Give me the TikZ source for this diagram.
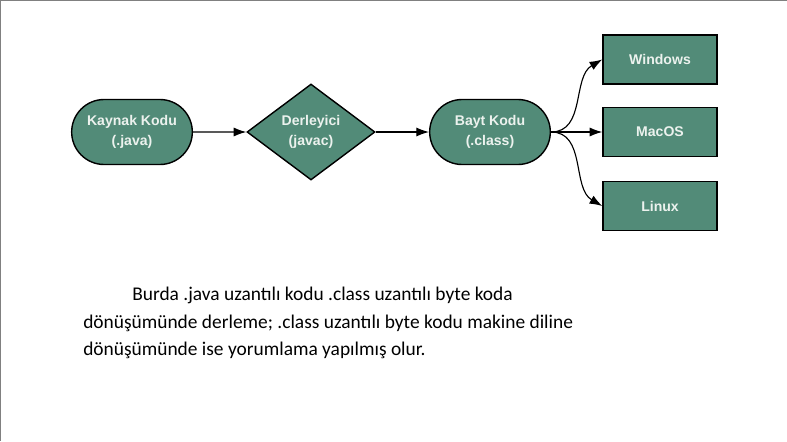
\documentclass[tikz,border=0pt]{standalone}
\usepackage{fontspec}
\setmainfont{Liberation Sans}
\newfontfamily\notefont{Carlito}
\usetikzlibrary{shapes,arrows.meta,positioning}
\definecolor{flowgreen}{RGB}{82,139,120}
\definecolor{flowtext}{RGB}{236,242,238}
\tikzset{
    flownode/.style={draw=black, line width=1pt, fill=flowgreen, text=flowtext, font=\bfseries\fontsize{10}{14.5}\selectfont, align=center},
    stadium/.style={flownode, rounded rectangle, minimum width=3.25cm, minimum height=1.625cm},
    decision/.style={flownode, diamond, minimum width=3.2cm, minimum height=2.4cm, inner sep=0pt},
    osbox/.style={flownode, rectangle, minimum width=2.85cm, minimum height=1.225cm},
    flowarrow/.style={-{Latex[length=9pt,width=6.5pt]}, line width=0.8pt}
}
\begin{document}
\begin{tikzpicture}[x=0.025cm, y=-0.025cm]
    \useasboundingbox (0,0) rectangle (787,441);
    \draw [gray, line width=1.5pt] (0,441) -- (0,0) -- (787,0);

    % Flow
    \node [stadium] (source) at (132,132) {Kaynak Kodu\\(.java)};
    \node [decision] (javac) at (311,132) {Derleyici\\(javac)};
    \node [stadium] (bytecode) at (490,132) {Bayt Kodu\\(.class)};

    % Targets
    \foreach \y/\name/\lab in {59.5/win/Windows, 132/mac/MacOS, 206/linux/Linux} {
        \node [osbox] (\name) at (660,\y) {\lab};
    }

    \draw [flowarrow] (source) -- (javac);
    \draw [flowarrow] (javac) -- (bytecode);
    \draw [flowarrow] (bytecode.east) to [out=0, in=210] (win.west);
    \draw [flowarrow] (bytecode.east) -- (mac.west);
    \draw [flowarrow] (bytecode.east) to [out=0, in=150] (linux.west);

    % Note
    \node [anchor=north west, inner sep=0pt, align=left, font=\notefont\fontsize{13.8}{19.5}\selectfont] (note) at (83,287)
        {\hspace*{1.225cm}Burda .java uzantılı kodu .class uzantılı byte koda\\
         dönüşümünde derleme; .class uzantılı byte kodu makine diline\\
         dönüşümünde ise yorumlama yapılmış olur.};
\end{tikzpicture}
\end{document}
